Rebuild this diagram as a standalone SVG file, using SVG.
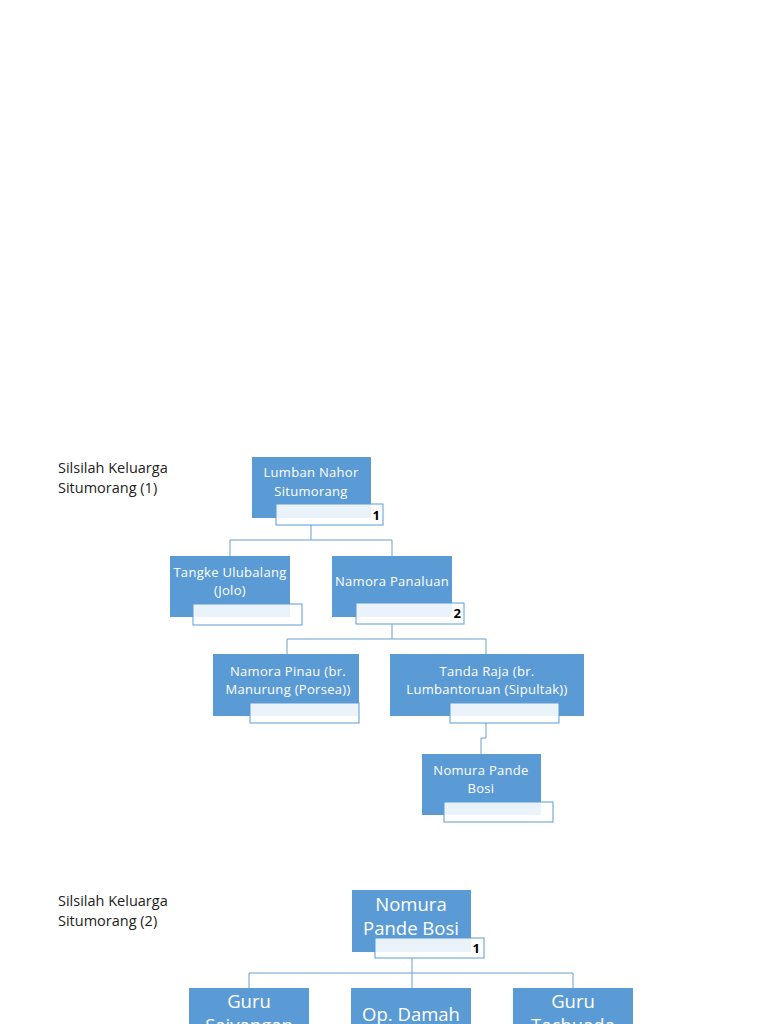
<svg xmlns="http://www.w3.org/2000/svg" width="768" height="1024" viewBox="0 0 768 1024">
<style>
.box{fill:#5b9bd5}
.sub{fill:#ffffff;fill-opacity:0.88;stroke:#5b9bd5;stroke-width:1}
.t{font-family:"Open Sans","Liberation Sans",sans-serif;fill:#ffffff;font-size:13px;letter-spacing:0.3px;text-anchor:middle}
.tb{font-family:"Open Sans","Liberation Sans",sans-serif;fill:#ffffff;font-size:18.5px;text-anchor:middle}
.n{font-family:"Open Sans","Liberation Sans",sans-serif;fill:#000000;font-size:13px;font-weight:bold;text-anchor:end}
.title{font-family:"Open Sans","Liberation Sans",sans-serif;fill:#222222;font-size:14.5px}
.c{fill:none;stroke:#6a9fd2;stroke-width:1}
</style>
<rect width="768" height="1024" fill="#ffffff"/>
<g id="title1"><text class="title" x="58" y="473">Silsilah Keluarga</text><text class="title" x="58" y="493">Situmorang (1)</text></g>
<g id="title2"><text class="title" x="58" y="906">Silsilah Keluarga</text><text class="title" x="58" y="926">Situmorang (2)</text></g>
<g id="connectors">
<polyline class="c" points="311,525 311,540"/>
<polyline class="c" points="230,556 230,540 392,540 392,556"/>
<polyline class="c" points="392,624 392,639"/>
<polyline class="c" points="287,654 287,639 486,639 486,654"/>
<polyline class="c" points="486,723 486,738 481,738 481,754"/>
<polyline class="c" points="412,958 412,973"/>
<polyline class="c" points="249,988 249,973 573,973 573,988"/>
<polyline class="c" points="412,973 412,988"/>
</g>
<g id="n1"><rect class="box" x="252" y="457" width="119" height="61"/><rect class="sub" x="276" y="504" width="107" height="21"/><text class="t" x="311" y="477">Lumban Nahor</text><text class="t" x="311" y="496">Situmorang</text><text class="n" x="380" y="520">1</text></g>
<g id="n2"><rect class="box" x="170" y="556" width="120" height="61"/><rect class="sub" x="193" y="604" width="109" height="21"/><text class="t" x="230" y="577">Tangke Ulubalang</text><text class="t" x="230" y="595">(Jolo)</text></g>
<g id="n3"><rect class="box" x="332" y="556" width="120" height="61"/><rect class="sub" x="356" y="603" width="108" height="21"/><text class="t" x="392" y="586">Namora Panaluan</text><text class="n" x="461" y="618">2</text></g>
<g id="n4"><rect class="box" x="213" y="654" width="146" height="62"/><rect class="sub" x="250" y="703" width="109" height="20"/><text class="t" x="288" y="676">Namora Pinau (br.</text><text class="t" x="288" y="694">Manurung (Porsea))</text></g>
<g id="n5"><rect class="box" x="390" y="654" width="194" height="62"/><rect class="sub" x="450" y="703" width="109" height="20"/><text class="t" x="487" y="676">Tanda Raja (br.</text><text class="t" x="487" y="694">Lumbantoruan (Sipultak))</text></g>
<g id="n6"><rect class="box" x="422" y="754" width="119" height="61"/><rect class="sub" x="444" y="802" width="109" height="20"/><text class="t" x="481" y="775">Nomura Pande</text><text class="t" x="481" y="793">Bosi</text></g>
<g id="n7"><rect class="box" x="352" y="890" width="119" height="62"/><rect class="sub" x="375" y="938" width="109" height="20"/><text class="tb" x="411" y="911">Nomura</text><text class="tb" x="411" y="935">Pande Bosi</text><text class="n" x="480" y="953">1</text></g>
<g id="n8"><rect class="box" x="189" y="988" width="120" height="40"/><text class="tb" x="249" y="1008">Guru</text><text class="tb" x="249" y="1032">Saivangan</text></g>
<g id="n9"><rect class="box" x="351" y="988" width="120" height="40"/><text class="tb" x="411" y="1021">Op. Damah</text></g>
<g id="n10"><rect class="box" x="513" y="988" width="120" height="40"/><text class="tb" x="573" y="1008">Guru</text><text class="tb" x="573" y="1032">Tachuada</text></g>
</svg>
